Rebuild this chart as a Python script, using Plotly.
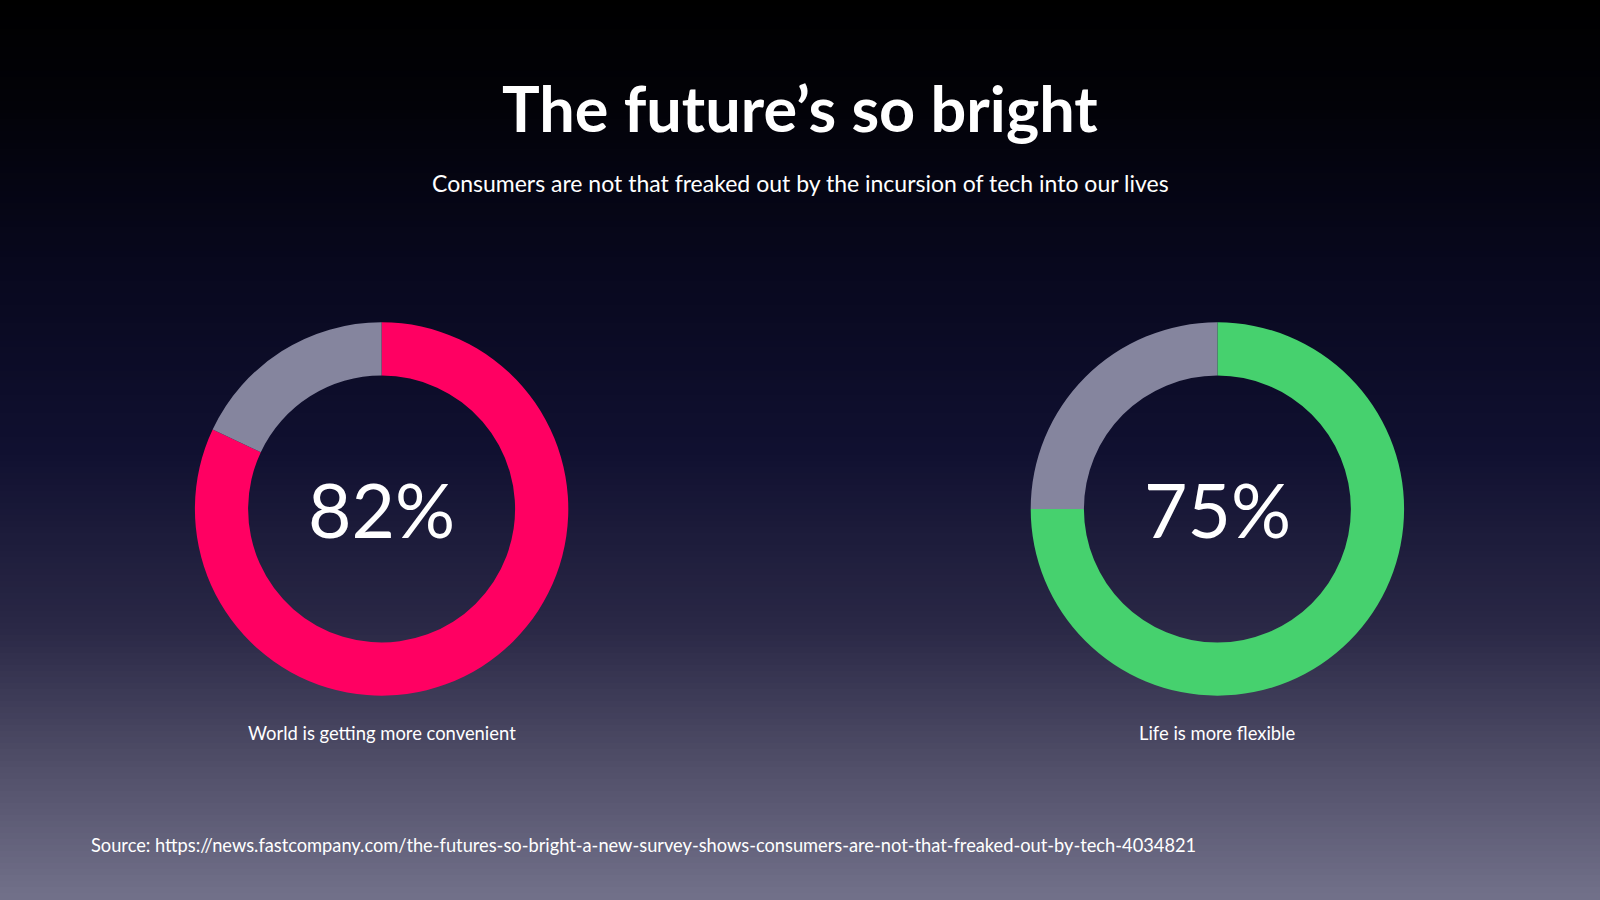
import plotly.graph_objects as go

# ---- data ----
labels_left = ["Agree", "Other"]
values_left = [82, 18]
labels_right = ["Agree", "Other"]
values_right = [75, 25]
center_texts = ["82%", "75%"]
captions = ["World is getting more convenient", "Life is more flexible"]
title_text = "The future’s so bright"
subtitle_text = "Consumers are not that freaked out by the incursion of tech into our lives"
source_text = "Source: https://news.fastcompany.com/the-futures-so-bright-a-new-survey-shows-consumers-are-not-that-freaked-out-by-tech-4034821"

W, H = 1600, 900
PINK = "#ff0062"
GREEN = "#46d16e"
GREY = "#85859e"

fig = go.Figure()

# gradient background via stacked rects
stops = [(0.0, (0, 0, 0)), (0.12, (2, 2, 8)), (0.3, (8, 8, 30)), (0.5, (16, 16, 48)),
         (0.7, (42, 40, 70)), (0.85, (80, 78, 104)), (1.0, (114, 113, 138))]

def col_at(t):
    for (t0, c0), (t1, c1) in zip(stops[:-1], stops[1:]):
        if t0 <= t <= t1:
            f = (t - t0) / (t1 - t0)
            return "rgb(%d,%d,%d)" % tuple(round(a + (b - a) * f) for a, b in zip(c0, c1))
    return "rgb(%d,%d,%d)" % stops[-1][1]

N = 150
shapes = []
for i in range(N):
    t = (i + 0.5) / N  # from top
    y1 = 1 - i / N
    y0 = 1 - (i + 1) / N
    shapes.append(dict(type="rect", xref="paper", yref="paper", x0=0, x1=1,
                       y0=y0 - 0.001, y1=y1 + 0.001, fillcolor=col_at(t),
                       line=dict(width=0), layer="below"))

cy = 391.0  # centre from bottom in px
r = 186.7
centers_x = [381.6, 1217.4]
dom_y = [(cy - r) / H, (cy + r) / H]

for cx, labs, vals, c in [(centers_x[0], labels_left, values_left, PINK),
                          (centers_x[1], labels_right, values_right, GREEN)]:
    fig.add_trace(go.Pie(
        labels=labs, values=vals, hole=0.715, sort=False, direction="clockwise",
        rotation=0, textinfo="none", hoverinfo="label+percent",
        marker=dict(colors=[c, GREY], line=dict(width=0)),
        domain=dict(x=[(cx - r) / W, (cx + r) / W], y=dom_y), showlegend=False))

annotations = [
    dict(text="<b>" + title_text + "</b>", x=0.5, y=1 - 107 / H, xref="paper", yref="paper",
         showarrow=False, font=dict(family="Lato", size=63, color="white"), xanchor="center", yanchor="middle"),
    dict(text=subtitle_text, x=0.5, y=1 - 183 / H, xref="paper", yref="paper",
         showarrow=False, font=dict(family="Lato", size=23, color="white"), xanchor="center", yanchor="middle"),
    dict(text=source_text, x=89 / W, y=1 - 845 / H, xref="paper", yref="paper",
         showarrow=False, font=dict(family="Lato", size=18.25, color="white"), xanchor="left", yanchor="middle"),
]
for cx, t, cap in zip(centers_x, center_texts, captions):
    annotations.append(dict(text=t, x=cx / W, y=1 - 509 / H, xref="paper", yref="paper",
                            showarrow=False, font=dict(family="Lato", size=75, color="white"),
                            xanchor="center", yanchor="middle"))
    annotations.append(dict(text=cap, x=cx / W, y=1 - 733 / H, xref="paper", yref="paper",
                            showarrow=False, font=dict(family="Lato", size=18.4, color="white"),
                            xanchor="center", yanchor="middle"))

fig.update_layout(width=W, height=H, margin=dict(l=0, r=0, t=0, b=0),
                  paper_bgcolor="black", plot_bgcolor="black",
                  shapes=shapes, annotations=annotations)

fig.write_html("out.html", config={"displayModeBar": False},
               post_script="document.body.style.margin='0';document.body.style.overflow='hidden';document.body.style.background='black';")
